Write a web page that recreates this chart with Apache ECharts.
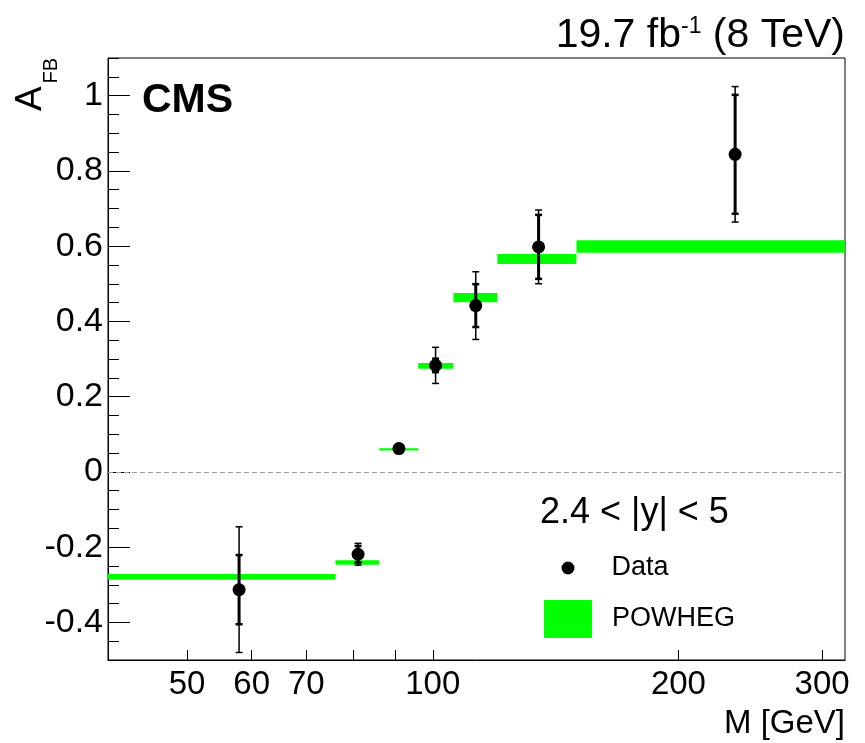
<!DOCTYPE html>
<html>
<head>
<meta charset="utf-8">
<script src="https://cdn.jsdelivr.net/npm/echarts@6/dist/echarts.min.js"></script>
<style>
html,body{margin:0;padding:0;background:#fff;}
#chart{width:865px;height:743px;}
</style>
</head>
<body>
<div id="chart"></div>
<script>
// ---- data ----
const massPoints = [57.9, 81.0, 90.9, 100.8, 112.9, 134.8, 234.7];
const afbData = [-0.313, -0.219, 0.062, 0.283, 0.442, 0.598, 0.844];
const afbStatErr = [0.092, 0.022, 0.006, 0.018, 0.057, 0.085, 0.158];
const afbTotErr = [0.167, 0.029, 0.009, 0.048, 0.090, 0.098, 0.180];

const powhegBinEdges = [40, 76, 86, 96, 106, 120, 150, 320];
const powhegAfb = [-0.279, -0.241, 0.060, 0.282, 0.463, 0.566, 0.599];
const powhegErr = [0.0076, 0.006, 0.003, 0.0076, 0.0125, 0.0133, 0.0164];

const xTickValues = [50, 60, 70, 80, 90, 100, 200, 300];
const xLabelValues = [50, 60, 70, 100, 200, 300];
const yLabelValues = [-0.4, -0.2, 0, 0.2, 0.4, 0.6, 0.8, 1];
const yMinorTickValues = [-0.5, -0.45, -0.4, -0.35, -0.3, -0.25, -0.2, -0.15, -0.1, -0.05, 0,
  0.05, 0.1, 0.15, 0.2, 0.25, 0.3, 0.35, 0.4, 0.45, 0.5, 0.55, 0.6, 0.65, 0.7, 0.75, 0.8,
  0.85, 0.9, 0.95, 1.0, 1.05, 1.1];
const xRange = [40, 320];
const yRange = [-0.5, 1.1];

// ---- build ----
const L = Math.log10;
const FONT = '"Liberation Sans", Arial, Helvetica, sans-serif';
const GREEN = '#00ff00';

const powhegRows = powhegAfb.map((v, i) => [L(powhegBinEdges[i]), L(powhegBinEdges[i + 1]), v, powhegErr[i]]);
const errRows = afbData.map((v, i) => [L(massPoints[i]), v, afbStatErr[i], afbTotErr[i]]);
const dataRows = afbData.map((v, i) => [L(massPoints[i]), v]);

const chart = echarts.init(document.getElementById('chart'), null, {renderer: 'canvas'});

function fmtY(v) { return String(parseFloat(Number(v).toFixed(2))); }

const option = {
  animation: false,
  backgroundColor: '#fff',
  grid: {left: 108, right: 20, top: 58, bottom: 83, show: true, borderColor: '#000', borderWidth: 1, backgroundColor: 'transparent'},
  xAxis: [{
    type: 'value', min: L(xRange[0]), max: L(xRange[1]), position: 'bottom',
    axisLine: {show: true, onZero: false, lineStyle: {color: '#000', width: 1}},
    axisTick: {show: true, inside: true, length: 10, customValues: xTickValues.map(L), lineStyle: {color: '#000', width: 1}},
    axisLabel: {show: true, customValues: xLabelValues.map(L), formatter: v => String(Math.round(Math.pow(10, v))),
      fontSize: 33, fontFamily: FONT, color: '#000', margin: 8, lineHeight: 33},
    splitLine: {show: false}
  }],
  yAxis: [{
    type: 'value', min: yRange[0], max: yRange[1],
    axisLine: {show: true, onZero: false, lineStyle: {color: '#000', width: 1}},
    axisTick: {show: true, inside: true, length: 22, customValues: yLabelValues, lineStyle: {color: '#000', width: 1}},
    axisLabel: {show: true, customValues: yLabelValues, formatter: fmtY, fontSize: 34, fontFamily: FONT, color: '#000', margin: 5},
    splitLine: {show: false}
  }, {
    type: 'value', min: yRange[0], max: yRange[1], position: 'left',
    axisLine: {show: false, onZero: false},
    axisTick: {show: true, inside: true, length: 11, customValues: yMinorTickValues, lineStyle: {color: '#000', width: 1}},
    axisLabel: {show: false},
    splitLine: {show: false}
  }],
  legend: [{
    data: [{name: 'Data', icon: 'circle'}],
    orient: 'vertical', left: 561.5, top: 553, padding: 0,
    itemWidth: 13, itemHeight: 13, selectedMode: false,
    textStyle: {fontSize: 27, fontFamily: FONT, color: '#000', lineHeight: 30, padding: [0, 0, 0, 32]}
  }, {
    data: [{name: 'POWHEG', icon: 'rect'}],
    orient: 'vertical', left: 544, top: 600, padding: 0,
    itemWidth: 48, itemHeight: 38, selectedMode: false,
    textStyle: {fontSize: 27, fontFamily: FONT, color: '#000', padding: [0, 0, 0, 15]}
  }],
  series: [{
    name: 'POWHEG', type: 'custom', z: 2,
    itemStyle: {color: GREEN},
    encode: {x: [0, 1], y: 2},
    data: powhegRows,
    renderItem: function (params, api) {
      const p1 = api.coord([api.value(0), api.value(2) + api.value(3)]);
      const p2 = api.coord([api.value(1), api.value(2) - api.value(3)]);
      return {type: 'rect', shape: {x: p1[0], y: p1[1], width: p2[0] - p1[0], height: Math.max(2, p2[1] - p1[1])},
        style: {fill: GREEN}};
    }
  }, {
    name: 'Data errors', type: 'custom', z: 3,
    encode: {x: 0, y: 1},
    data: errRows,
    renderItem: function (params, api) {
      const x = api.value(0), y = api.value(1), s = api.value(2), t = api.value(3);
      const cx = api.coord([x, y])[0];
      const tTop = api.coord([x, y + t])[1], tBot = api.coord([x, y - t])[1];
      const sTop = api.coord([x, y + s])[1], sBot = api.coord([x, y - s])[1];
      const st = {stroke: '#000', lineWidth: 1.5};
      const sth = {stroke: '#000', lineWidth: 3};
      const cap = {stroke: '#000', lineWidth: 2.5};
      return {type: 'group', children: [
        {type: 'line', shape: {x1: cx, y1: tTop, x2: cx, y2: tBot}, style: st},
        {type: 'line', shape: {x1: cx - 3.5, y1: tTop, x2: cx + 3.5, y2: tTop}, style: st},
        {type: 'line', shape: {x1: cx - 3.5, y1: tBot, x2: cx + 3.5, y2: tBot}, style: st},
        {type: 'line', shape: {x1: cx, y1: sTop, x2: cx, y2: sBot}, style: sth},
        {type: 'line', shape: {x1: cx - 3.5, y1: sTop, x2: cx + 3.5, y2: sTop}, style: cap},
        {type: 'line', shape: {x1: cx - 3.5, y1: sBot, x2: cx + 3.5, y2: sBot}, style: cap}
      ]};
    }
  }, {
    name: 'Data', type: 'scatter', z: 4,
    symbol: 'circle', symbolSize: 13,
    itemStyle: {color: '#000', opacity: 1},
    data: dataRows,
    markLine: {
      silent: true, symbol: ['none', 'none'], label: {show: false},
      lineStyle: {color: '#999', type: [5, 3], width: 1, opacity: 1},
      emphasis: {disabled: true},
      data: [{yAxis: 0}]
    }
  }],
  graphic: [
    {type: 'text', left: 142, top: 80, z: 10,
      style: {text: 'CMS', font: 'bold 41px ' + FONT, fill: '#000'}},
    {type: 'text', x: 845, y: 36, z: 10,
      style: {text: '{a|19.7 fb}{s|-1}{a| (8 TeV)}', align: 'right', verticalAlign: 'middle', fill: '#000',
        rich: {a: {fontSize: 41, fontFamily: FONT, fill: '#000'}, s: {fontSize: 23, fontFamily: FONT, fill: '#000', verticalAlign: 'top'}}}},
    {type: 'text', x: 31, y: 111, rotation: Math.PI / 2, z: 10,
      style: {text: 'A', align: 'left', verticalAlign: 'middle', font: '37px ' + FONT, fill: '#000'}},
    {type: 'text', x: 51, y: 58, rotation: Math.PI / 2, z: 10,
      style: {text: 'FB', align: 'right', verticalAlign: 'middle', font: '20px ' + FONT, fill: '#000'}},
    {type: 'text', x: 845, y: 724, z: 10,
      style: {text: 'M [GeV]', align: 'right', verticalAlign: 'middle', font: '33px ' + FONT, fill: '#000'}},
    {type: 'text', x: 540, y: 513, z: 10,
      style: {text: '2.4 < |y| < 5', align: 'left', verticalAlign: 'middle', font: '36px ' + FONT, fill: '#000'}}
  ]
};
chart.setOption(option);
</script>
</body>
</html>
